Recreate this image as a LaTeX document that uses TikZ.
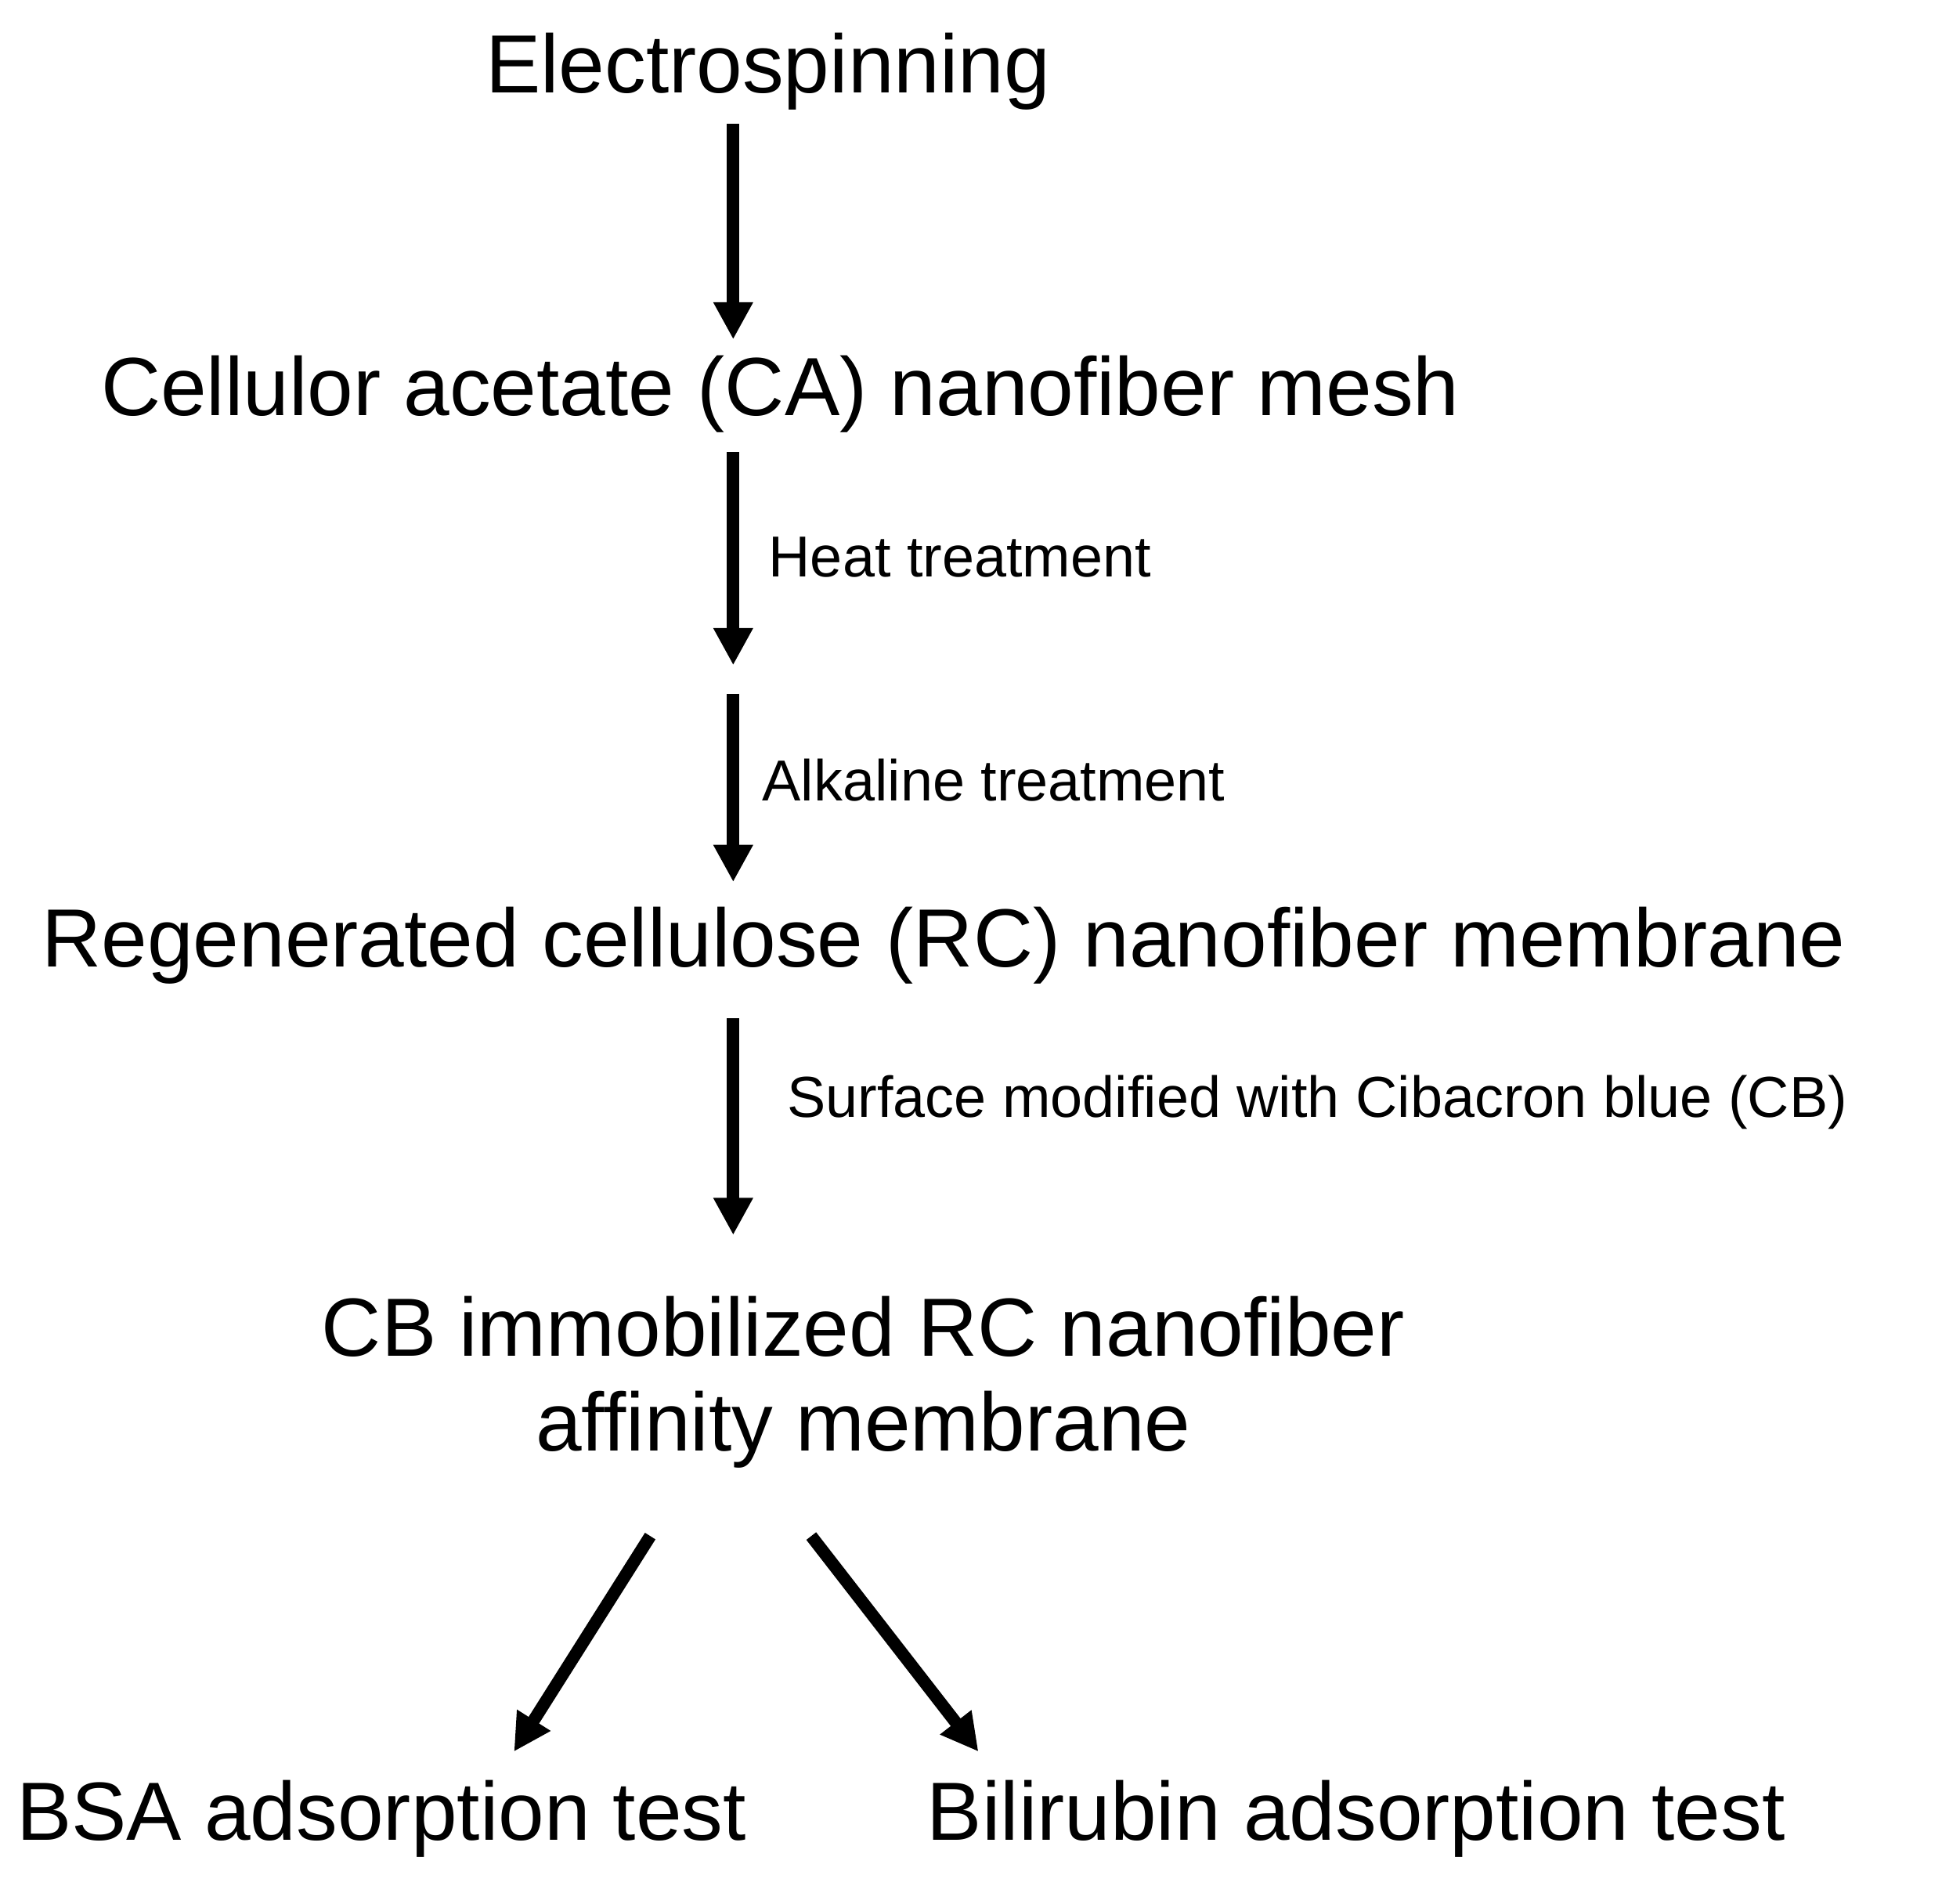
\documentclass[tikz,border=0pt]{standalone}
\usepackage{fontspec}
\setmainfont{Liberation Sans}
\usetikzlibrary{arrows.meta}
\begin{document}
\begin{tikzpicture}[x=0.3pt,y=-0.3pt,
  big/.style={font=\fontsize{20}{23}\selectfont,inner sep=0pt,align=center},
  lab/.style={font=\fontsize{14}{16}\selectfont,inner sep=0pt,anchor=west},
  arr/.style={line width=3pt,-{Triangle[length=9pt,width=9pt]}}]
\useasboundingbox (0,0) rectangle (1568,1537);
\node[big] (e) at (620,58) {Electrospinning};
\node[big] (ca) at (630,318) {Cellulor acetate (CA) nanofiber mesh};
\node[big] (rc) at (762,763) {Regenerated cellulose (RC) nanofiber membrane};
\node[big] (cb) at (697,1116) {CB immobilized RC nanofiber\\affinity membrane};
\node[big] (bsa) at (308,1468) {BSA adsorption test};
\node[big] (bil) at (1095,1468) {Bilirubin adsorption test};
\coordinate (a1) at (592,100); \coordinate (b1) at (592,274);
\coordinate (a2) at (592,365); \coordinate (b2) at (592,537);
\coordinate (a3) at (592,560); \coordinate (b3) at (592,712);
\coordinate (a4) at (592,822); \coordinate (b4) at (592,997);
\coordinate (a5) at (525,1240); \coordinate (b5) at (415,1414);
\coordinate (a6) at (655,1240); \coordinate (b6) at (790,1414);
\draw[arr] (a1) -- (b1);
\draw[arr] (a2) -- (b2);
\draw[arr] (a3) -- (b3);
\draw[arr] (a4) -- (b4);
\draw[arr] (a5) -- (b5);
\draw[arr] (a6) -- (b6);
\node[lab] (l1) at (620,450) {Heat treatment};
\node[lab] (l2) at (615,630) {Alkaline treatment};
\node[lab] (l3) at (635,890) {Surface modified with Cibacron blue (CB)};
\end{tikzpicture}
\end{document}
